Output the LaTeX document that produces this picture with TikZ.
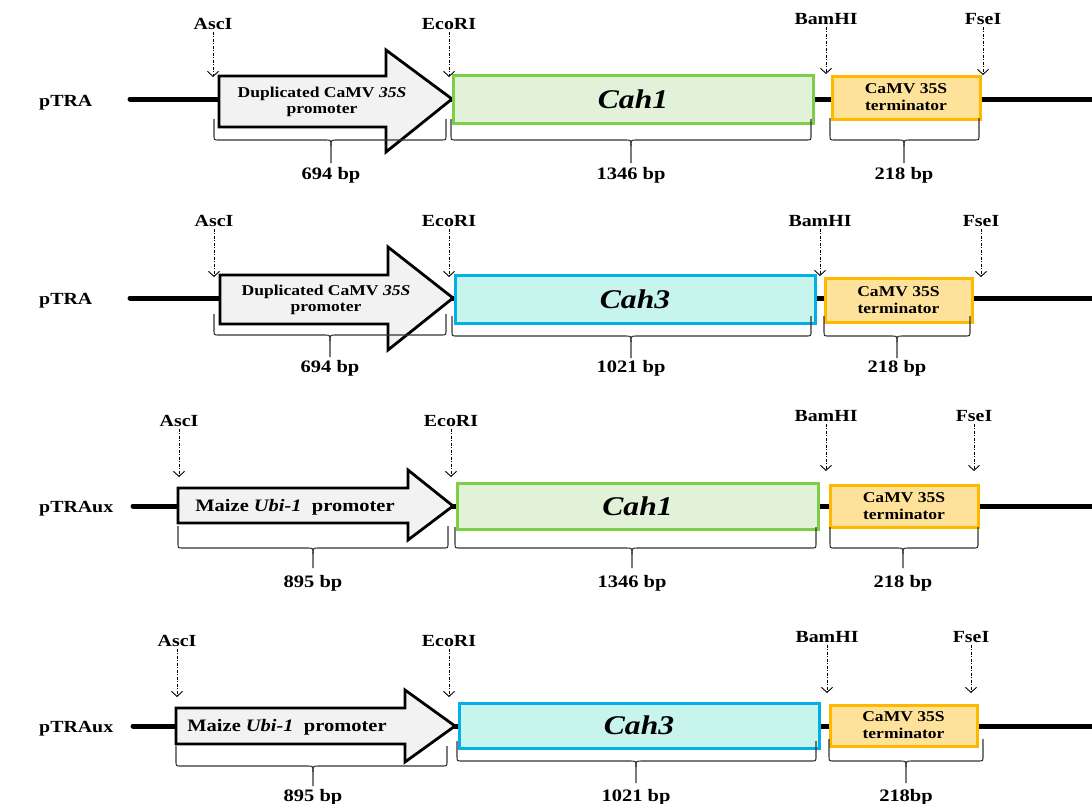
\documentclass[tikz,border=0pt]{standalone}
\usepackage{fontspec}
\setmainfont{Liberation Serif}[FakeStretch=1.17]
\usetikzlibrary{arrows.meta}
\definecolor{cahAline}{RGB}{124,208,72}
\definecolor{cahAfill}{RGB}{226,242,216}
\definecolor{cahBline}{RGB}{0,176,230}
\definecolor{cahBfill}{RGB}{200,244,238}
\definecolor{termline}{RGB}{255,184,0}
\definecolor{termfill}{RGB}{255,226,153}
\definecolor{promfill}{RGB}{242,242,242}
\newcommand\mybrc[6]{%
  \draw[brc] (#1,#4) -- (#1,#5-5) .. controls (#1,#5) .. (#1+5,#5) -- (#3-6,#5) .. controls (#3,#5) .. (#3,#5+6) -- (#3,#6);
  \draw[brc] (#2,#4) -- (#2,#5-5) .. controls (#2,#5) .. (#2-5,#5) -- (#3+6,#5) .. controls (#3,#5) .. (#3,#5+6);}
\begin{document}
\begin{tikzpicture}[x=1pt,y=-1pt,
  rowlbl/.style={anchor=base west,inner sep=0pt,font=\bfseries\fontsize{17}{20}\selectfont},
  sitelbl/.style={anchor=base,inner sep=2.5pt,font=\bfseries\fontsize{17}{20}\selectfont},
  bplbl/.style={anchor=base,inner sep=0pt,font=\bfseries\fontsize{17.5}{20}\selectfont},
  site/.style={line width=0.9pt,dash pattern=on 3pt off 1.5pt on 1pt off 1.5pt,-{Straight Barb[length=5pt,width=11pt]}},
  backbone/.style={line width=5pt,line cap=round},
  prom/.style={draw,fill=promfill,line width=2.8pt,line join=miter},
  promtxt/.style={align=center,inner sep=0pt,font=\bfseries\fontsize{15}{16}\selectfont},
  ubitxt/.style={inner sep=0pt,font=\bfseries\fontsize{17.5}{20}\selectfont},
  cahA/.style={draw=cahAline,fill=cahAfill,line width=3pt,inner sep=0pt,font=\bfseries\itshape\fontsize{27}{30}\selectfont},
  cahB/.style={draw=cahBline,fill=cahBfill,line width=3pt,inner sep=0pt,font=\bfseries\itshape\fontsize{27}{30}\selectfont},
  term/.style={draw=termline,fill=termfill,line width=3pt,inner sep=0pt,align=center,font=\bfseries\fontsize{15}{17}\selectfont},
  brc/.style={draw=black!80,line width=1.1pt}]
\useasboundingbox (0,0) rectangle (1092,803);

% ---------- Row 1 ----------
\node[rowlbl] (r1) at (39,106) {pTRA};
\coordinate (b1s) at (130,99); \coordinate (b1e) at (1096,99);
\draw[backbone] (b1s) -- (b1e);
\draw[prom] (219,76) -- (386,76) -- (386,50) -- (452,99) -- (386,152) -- (386,127) -- (219,127) -- cycle;
\node[promtxt] (p1) at (322,102) {Duplicated CaMV \textit{35S}\\promoter};
\node[cahA,minimum width=360pt,minimum height=48pt] (g1) at (633,99) {Cah1};
\node[term,minimum width=148pt,minimum height=43pt] (t1) at (906,97.5) {CaMV 35S\\terminator};
\node[sitelbl] (s1a) at (213,29) {AscI}; \coordinate (s1at) at (213,77);
\node[sitelbl] (s1b) at (449,29) {EcoRI}; \coordinate (s1bt) at (449,77);
\node[sitelbl] (s1c) at (826,24) {BamHI}; \coordinate (s1ct) at (826,74);
\node[sitelbl] (s1d) at (983,24) {FseI}; \coordinate (s1dt) at (983,75);
\draw[site] (s1a) -- (s1at); \draw[site] (s1b) -- (s1bt);
\draw[site] (s1c) -- (s1ct); \draw[site] (s1d) -- (s1dt);
\mybrc{214}{446}{331}{119}{140}{163}
\mybrc{451}{811}{631}{119}{140}{163}
\mybrc{830}{979}{904}{118}{140}{163}
\node[bplbl] (l1a) at (331,179) {694 bp};
\node[bplbl] (l1b) at (631,179) {1346 bp};
\node[bplbl] (l1c) at (904,179) {218 bp};

% ---------- Row 2 ----------
\node[rowlbl] (r2) at (39,304) {pTRA};
\coordinate (b2s) at (130,298); \coordinate (b2e) at (1096,298);
\draw[backbone] (b2s) -- (b2e);
\draw[prom] (220,275) -- (388,275) -- (388,247) -- (453,298) -- (388,350) -- (388,324) -- (220,324) -- cycle;
\node[promtxt] (p2) at (326,300) {Duplicated CaMV \textit{35S}\\promoter};
\node[cahB,minimum width=360pt,minimum height=48pt] (g2) at (635,299) {Cah3};
\node[term,minimum width=147pt,minimum height=44pt] (t2) at (898.5,300) {CaMV 35S\\terminator};
\node[sitelbl] (s2a) at (214,226) {AscI}; \coordinate (s2at) at (214,277);
\node[sitelbl] (s2b) at (449,226) {EcoRI}; \coordinate (s2bt) at (449,277);
\node[sitelbl] (s2c) at (820,226) {BamHI}; \coordinate (s2ct) at (820,276);
\node[sitelbl] (s2d) at (981,226) {FseI}; \coordinate (s2dt) at (981,277);
\draw[site] (s2a) -- (s2at); \draw[site] (s2b) -- (s2bt);
\draw[site] (s2c) -- (s2ct); \draw[site] (s2d) -- (s2dt);
\mybrc{214}{446}{330}{314}{335}{357}
\mybrc{452}{811}{631}{316}{336}{358}
\mybrc{824}{970}{897}{316}{336}{358}
\node[bplbl] (l2a) at (330,372) {694 bp};
\node[bplbl] (l2b) at (631,372) {1021 bp};
\node[bplbl] (l2c) at (897,372) {218 bp};

% ---------- Row 3 ----------
\node[rowlbl] (r3) at (39,512) {pTRAux};
\coordinate (b3s) at (133,506); \coordinate (b3e) at (1096,506);
\draw[backbone] (b3s) -- (b3e);
\draw[prom] (178,488) -- (408,488) -- (408,470) -- (453,506) -- (408,540) -- (408,523) -- (178,523) -- cycle;
\node[ubitxt] (p3) at (295,507) {Maize \textit{Ubi-1}\ \ promoter};
\node[cahA,minimum width=361pt,minimum height=46pt] (g3) at (637.5,506) {Cah1};
\node[term,minimum width=148pt,minimum height=42pt] (t3) at (904,506) {CaMV 35S\\terminator};
\node[sitelbl] (s3a) at (179,426) {AscI}; \coordinate (s3at) at (179,477);
\node[sitelbl] (s3b) at (451,426) {EcoRI}; \coordinate (s3bt) at (451,477);
\node[sitelbl] (s3c) at (826,421) {BamHI}; \coordinate (s3ct) at (826,471);
\node[sitelbl] (s3d) at (974,421) {FseI}; \coordinate (s3dt) at (974,471);
\draw[site] (s3a) -- (s3at); \draw[site] (s3b) -- (s3bt);
\draw[site] (s3c) -- (s3ct); \draw[site] (s3d) -- (s3dt);
\mybrc{178}{448}{313}{526}{548}{568}
\mybrc{455}{816}{632}{527}{548}{568}
\mybrc{830}{978}{903}{527}{548}{568}
\node[bplbl] (l3a) at (313,587) {895 bp};
\node[bplbl] (l3b) at (632,587) {1346 bp};
\node[bplbl] (l3c) at (903,587) {218 bp};

% ---------- Row 4 ----------
\node[rowlbl] (r4) at (39,732) {pTRAux};
\coordinate (b4s) at (133,726); \coordinate (b4e) at (1096,726);
\draw[backbone] (b4s) -- (b4e);
\draw[prom] (176,708) -- (405,708) -- (405,690) -- (455,726) -- (405,762) -- (405,744) -- (176,744) -- cycle;
\node[ubitxt] (p4) at (287,727) {Maize \textit{Ubi-1}\ \ promoter};
\node[cahB,minimum width=360pt,minimum height=45pt] (g4) at (639,725.5) {Cah3};
\node[term,minimum width=147pt,minimum height=41pt] (t4) at (903.5,725.5) {CaMV 35S\\terminator};
\node[sitelbl] (s4a) at (177,646) {AscI}; \coordinate (s4at) at (177,697);
\node[sitelbl] (s4b) at (449,646) {EcoRI}; \coordinate (s4bt) at (449,697);
\node[sitelbl] (s4c) at (827,642) {BamHI}; \coordinate (s4ct) at (827,693);
\node[sitelbl] (s4d) at (971,642) {FseI}; \coordinate (s4dt) at (971,693);
\draw[site] (s4a) -- (s4at); \draw[site] (s4b) -- (s4bt);
\draw[site] (s4c) -- (s4ct); \draw[site] (s4d) -- (s4dt);
\mybrc{176}{447}{313}{746}{766}{786}
\mybrc{457}{816}{636}{741}{761}{783}
\mybrc{829}{983}{906}{739}{761}{783}
\node[bplbl] (l4a) at (313,801) {895 bp};
\node[bplbl] (l4b) at (636,801) {1021 bp};
\node[bplbl] (l4c) at (906,801) {218bp};
\end{tikzpicture}
\end{document}
